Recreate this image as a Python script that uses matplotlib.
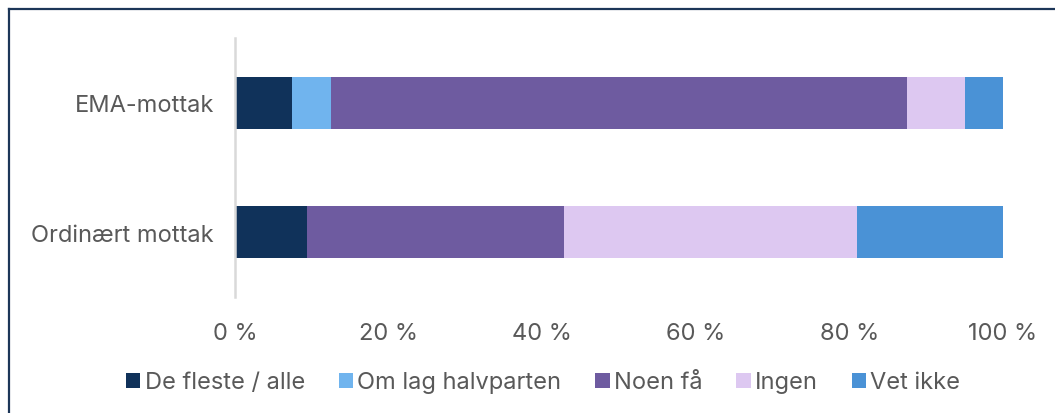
import numpy as np
import matplotlib
matplotlib.use("Agg")
import matplotlib.pyplot as plt
from matplotlib.lines import Line2D
from matplotlib.patches import Patch

plt.rcParams['font.family'] = ['Inter', 'DejaVu Sans']

categories = ['EMA-mottak', 'Ordinært mottak']
series = ['De fleste / alle', 'Om lag halvparten', 'Noen få', 'Ingen', 'Vet ikke']
values = {
    'De fleste / alle':  [7.4, 9.4],
    'Om lag halvparten': [5.1, 0.0],
    'Noen få':           [75.0, 33.4],
    'Ingen':             [7.5, 38.2],
    'Vet ikke':          [5.0, 19.0],
}
colors = ['#10325a', '#70b4ee', '#6e5ba0', '#ddc8f1', '#4a92d6']
xticks = [0, 20, 40, 60, 80, 100]

text_col = '#595959'

fig = plt.figure(figsize=(10.55, 4.14), dpi=100)
ax = fig.add_axes([0.2227, 0.2802, 0.728, 0.6256])

y = np.arange(len(categories))
left = np.zeros(len(categories))
for name, col in zip(series, colors):
    v = np.array(values[name])
    ax.barh(y, v, left=left, height=0.4, color=col, edgecolor='none')
    left += v

ax.set_ylim(1.5, -0.5)
ax.set_xlim(0, 100)
ax.set_yticks(y)
ax.set_yticklabels(categories, fontsize=17, color=text_col)
ax.set_xticks(xticks)
ax.set_xticklabels([f'{t} %' for t in xticks], fontsize=17, color=text_col)
ax.tick_params(axis='y', length=0, pad=15)
ax.tick_params(axis='x', length=0, pad=18)

for s in ['top', 'right', 'bottom']:
    ax.spines[s].set_visible(False)
ax.spines['left'].set_color('#d9d9d9')
ax.spines['left'].set_linewidth(1.8)

handles = [Patch(facecolor=c, edgecolor='none') for c in colors]
leg = fig.legend(handles, series, loc='center', bbox_to_anchor=(0.5147, 0.074),
                 ncol=5, frameon=False, fontsize=17, handlelength=0.61,
                 handleheight=0.6, handletextpad=0.17, columnspacing=1.44)
for t in leg.get_texts():
    t.set_color(text_col)

# chart frame (top and left edge visible)
fig.add_artist(Line2D([9 / 1055, 1.0], [1 - 9.5 / 414, 1 - 9.5 / 414],
                      transform=fig.transFigure, color='#1c3658', lw=1.6))
fig.add_artist(Line2D([9 / 1055, 9 / 1055], [0.0, 1 - 9.5 / 414],
                      transform=fig.transFigure, color='#1c3658', lw=1.6))

fig.savefig('out.png', dpi=100)
